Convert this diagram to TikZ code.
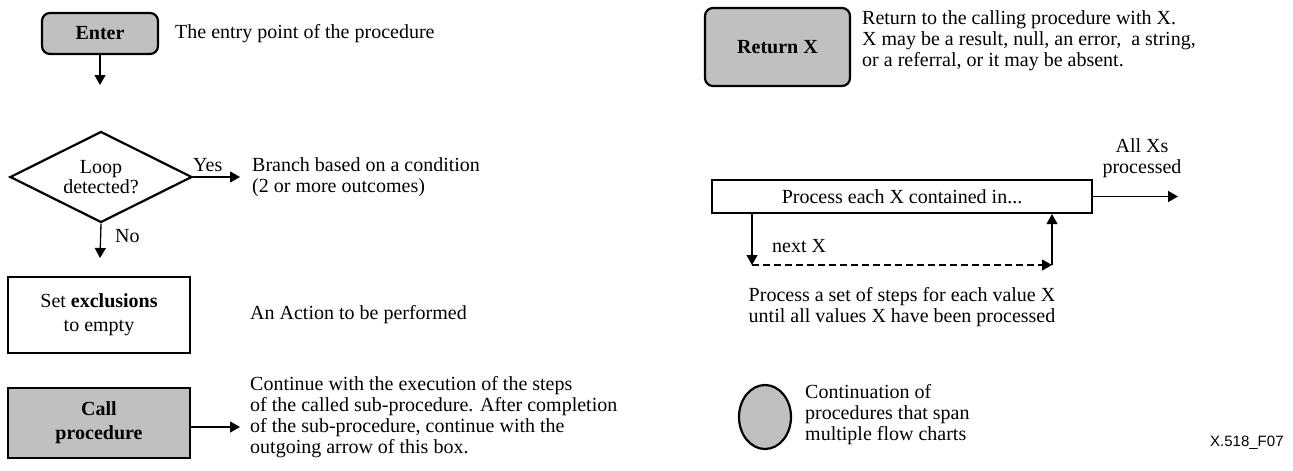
\documentclass[tikz,border=0pt]{standalone}
\usepackage{fontspec}
\setmainfont{Liberation Serif}
\setsansfont{Liberation Sans}
\usetikzlibrary{shapes.geometric,arrows.meta}
\definecolor{boxgray}{RGB}{192,192,192}
\begin{document}
\begin{tikzpicture}[x=1pt, y=-1pt, font=\fontsize{20}{21}\selectfont]
    \tikzstyle{box_style} = [draw=black, line width=2.2pt, inner sep=0pt, align=center, font=\fontsize{20}{24}\selectfont]
    \tikzstyle{term_style} = [box_style, rounded corners=8pt, fill=boxgray, font=\fontsize{20}{24}\selectfont\bfseries]
    \tikzstyle{text_style} = [anchor=base west, inner sep=0pt, align=left]
    \tikzstyle{edge_style} = [draw=black, line width=1.3pt, -{Triangle[length=10pt,width=11pt]}]
    \useasboundingbox (0,0) rectangle (1293,471);

    % left column
    \node[term_style, minimum width=116pt, minimum height=41pt] (enter) at (100,33.5) {Enter};
    \node[box_style, diamond, aspect=2, minimum width=182pt, minimum height=91pt, font=\fontsize{20}{20}\selectfont] (loop) at (101,177) {Loop\\detected?};
    \node[box_style, minimum width=182pt, minimum height=76pt] (setx) at (99,315) {Set \textbf{exclusions}\\to empty};
    \node[box_style, fill=boxgray, minimum width=182pt, minimum height=70pt, font=\fontsize{20}{24}\selectfont\bfseries] (callp) at (99,423) {Call\\procedure};
    \coordinate (e1) at (100,85);
    \coordinate (y1) at (240,177);
    \coordinate (n1) at (100,258);
    \coordinate (c1) at (240,427);

    % descriptions (base = last line)
    \node[text_style] (t_enter) at (175,38) {The entry point of the procedure};
    \node[text_style] (t_yes) at (193,171) {Yes};
    \node[text_style] (t_no) at (115,242) {No};
    \node[text_style] (t_loop) at (252,192) {Branch based on a condition\\(2 or more outcomes)};
    \node[text_style] (t_setx) at (250,319) {An Action to be performed};
    \node[text_style] (t_callp) at (250,453) {Continue with the execution of the steps\\of the called sub-procedure. After completion\\of the sub-procedure, continue with the\\outgoing arrow of this box.};

    \draw[edge_style] (enter) -- (e1);
    \draw[edge_style] (loop.east) -- (y1);
    \draw[edge_style] (loop.south) -- (n1);
    \draw[edge_style] (callp.east |- c1) -- (c1);

    % right column
    \node[term_style, minimum width=145pt, minimum height=78pt] (ret) at (777.5,47) {Return X};
    \node[box_style, minimum width=380pt, minimum height=33pt] (each) at (902,196.5) {Process each X contained in...};
    \node[draw=black, line width=2.2pt, fill=boxgray, ellipse, minimum width=52pt, minimum height=64pt] (cont) at (765,417) {};
    \coordinate (a1) at (1178,196.5);
    \coordinate (x0) at (752,265);
    \coordinate (x1) at (1052,265);

    \node[text_style] (t_ret) at (862,66) {Return to the calling procedure with X.\\X may be a result, null, an error,\ \ a string,\\or a referral, or it may be absent.};
    \node[anchor=base, inner sep=0pt, align=center] (t_all) at (1142,173) {All Xs\\processed};
    \node[text_style] (t_next) at (772,252) {next X};
    \node[anchor=base, inner sep=0pt, align=center] (t_each) at (902,322) {Process a set of steps for each value X\\until all values X have been processed};
    \node[text_style] (t_cont) at (805,440) {Continuation of\\procedures that span\\multiple flow charts};
    \node[anchor=base west, inner sep=0pt, font=\sffamily\fontsize{15}{18}\selectfont] (fig) at (1210,446) {X.518\_F07};

    \draw[edge_style] (each) -- (a1);
    \draw[edge_style] (each.south -| x0) -- (x0);
    \draw[edge_style, dash pattern=on 7pt off 4pt] (x0) -- (x1);
    \draw[edge_style] (x1) -- (each.south -| x1);
\end{tikzpicture}
\end{document}
